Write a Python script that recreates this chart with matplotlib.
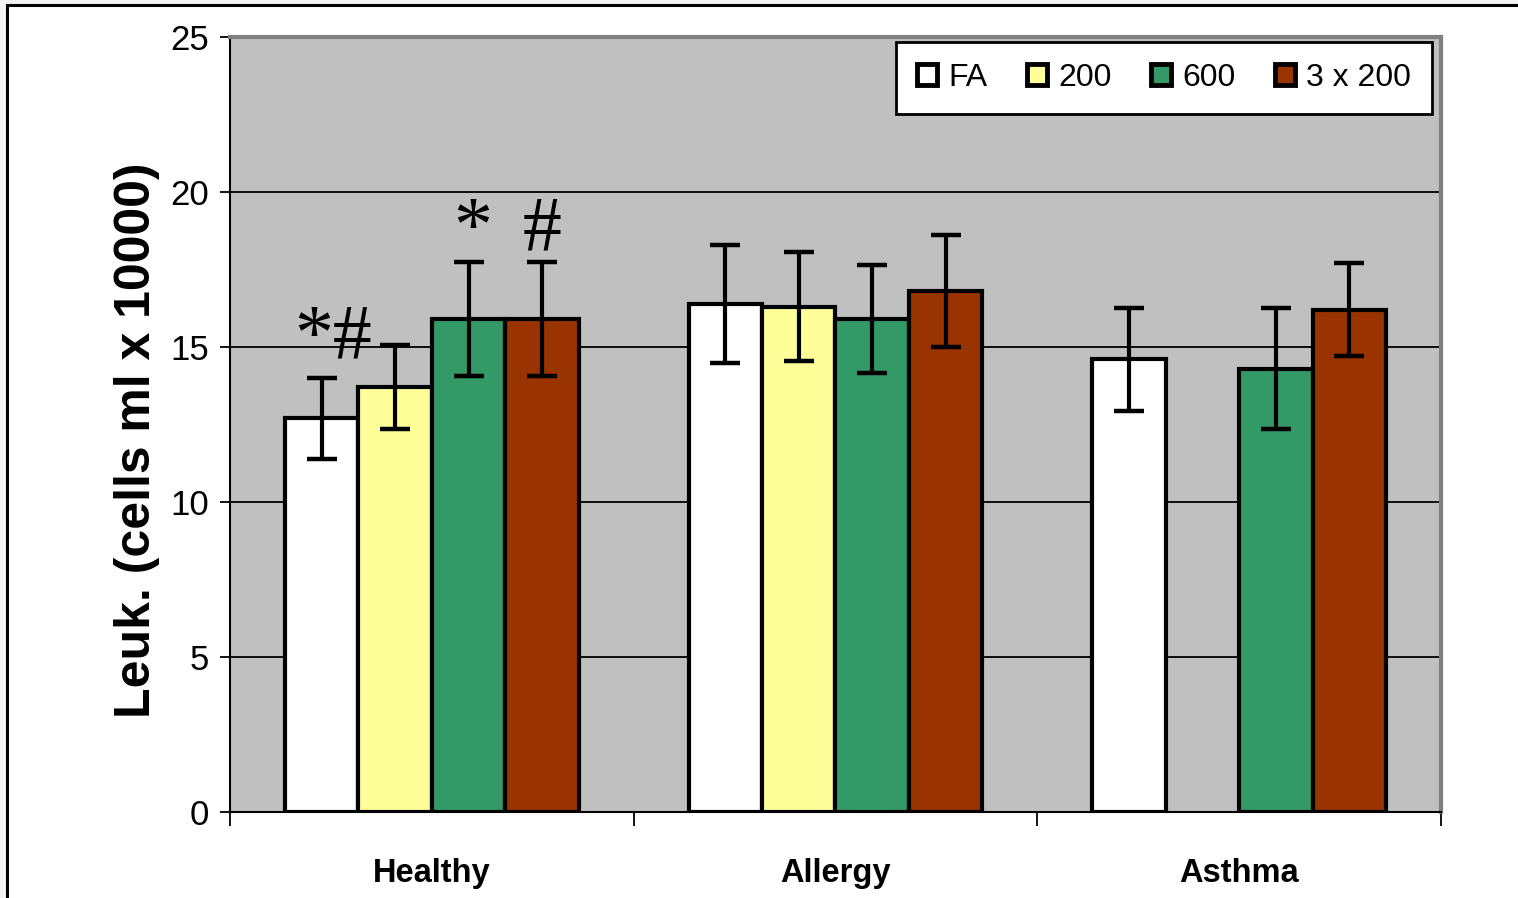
import numpy as np
import matplotlib.pyplot as plt
from matplotlib.patches import Rectangle

groups = ['Healthy', 'Allergy', 'Asthma']
exposures = ['FA', '200', '600', '3 x 200']
colors = ['#ffffff', '#ffff99', '#339966', '#993300']

# leukocyte means and error (one list per exposure, ordered by group)
means = {
    'FA':      [12.7, 16.4, 14.6],
    '200':     [13.7, 16.3, np.nan],
    '600':     [15.9, 15.9, 14.3],
    '3 x 200': [15.9, 16.8, 16.2],
}
errors = {
    'FA':      [1.3, 1.9, 1.65],
    '200':     [1.35, 1.75, np.nan],
    '600':     [1.85, 1.75, 1.95],
    '3 x 200': [1.85, 1.8, 1.5],
}

# significance marks: (group index, slot position, text, baseline)
marks = [(0, 0.15, '*#', 14.65), (0, 2.05, '*', 18.13), (0, 3.0, '#', 18.13)]

plt.rcParams['font.family'] = ['Liberation Sans', 'DejaVu Sans']

fig = plt.figure(figsize=(15.18, 8.98), dpi=100)
fig.patch.set_facecolor('#f2f2f2')
fig.patches.append(Rectangle((7 / 1518, -0.1), 1.2, 1 - 5 / 898 + 0.1,
                             transform=fig.transFigure, facecolor='white',
                             edgecolor='black', linewidth=2.2, zorder=-5))

ax = fig.add_axes([230 / 1518, 1 - 812 / 898, 1211 / 1518, 775 / 898])
ax.set_facecolor('#c0c0c0')

n = len(exposures)
width = 1 / (n + 1.5)
x = np.arange(len(groups))

for i, name in enumerate(exposures):
    pos = x + (i - (n - 1) / 2) * width
    vals = np.array(means[name])
    errs = np.array(errors[name])
    ok = ~np.isnan(vals)
    ax.bar(pos[ok], vals[ok], width=width, color=colors[i], edgecolor='black',
           linewidth=3, label=name, zorder=2)
    ax.errorbar(pos[ok], vals[ok], yerr=errs[ok], fmt='none', ecolor='black',
                elinewidth=3, capsize=11, capthick=3.2, zorder=3)

for g, k, txt, base in marks:
    xx = x[g] + (k - (n - 1) / 2) * width
    ax.text(xx, base, txt, ha='center', va='baseline',
            fontsize=56, family='Liberation Serif', zorder=4)

ax.set_xlim(-0.5, 2.5)
ax.set_ylim(0, 25)
ax.set_yticks(np.arange(0, 26, 5))
ax.yaxis.grid(True, color='black', linewidth=1.3)
ax.set_axisbelow(True)
ax.tick_params(axis='y', labelsize=25, length=7, width=1.3, direction='out', pad=8)

ax.set_xticks([-0.5, 0.5, 1.5, 2.5])
ax.set_xticklabels([])
ax.set_xticks(x, minor=True)
ax.set_xticklabels(groups, minor=True, fontsize=23.5, fontweight='bold')
ax.tick_params(axis='x', which='major', length=10, width=1.3)
ax.tick_params(axis='x', which='minor', length=0, pad=33)

for side in ['top', 'right']:
    ax.spines[side].set_color('#808080')
    ax.spines[side].set_linewidth(3)
ax.spines['left'].set_color('black')
ax.spines['left'].set_linewidth(1.5)
ax.spines['bottom'].set_color('black')
ax.spines['bottom'].set_linewidth(1.5)

ax.set_ylabel('Leuk. (cells ml x 10000)', fontsize=36, fontweight='bold',
              labelpad=16)
ax.yaxis.set_label_coords(-0.058, 0.48)

leg = ax.legend(loc='upper right', bbox_to_anchor=(0.9926, 0.9935), ncol=4,
                fontsize=23, frameon=True, fancybox=False, framealpha=1,
                edgecolor='black', handlelength=0.62, handleheight=0.62,
                handletextpad=0.35, columnspacing=1.25, borderpad=0.65,
                borderaxespad=0)
leg.get_frame().set_linewidth(2)
for h in leg.legend_handles:
    h.set_linewidth(3.5)

fig.savefig('out.png', dpi=100, facecolor=fig.get_facecolor())
